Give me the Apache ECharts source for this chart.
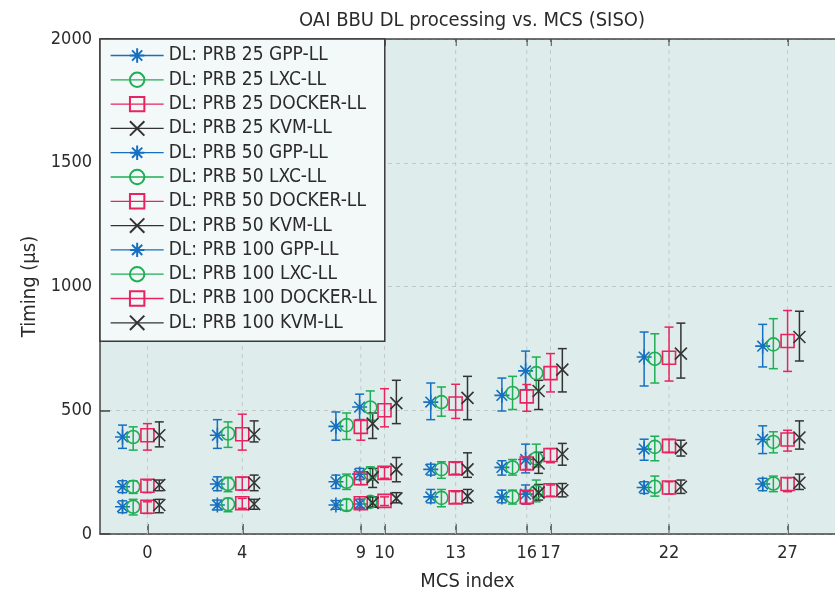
<!DOCTYPE html>
<html>
<head>
<meta charset="utf-8">
<script src="https://cdn.jsdelivr.net/npm/echarts@6.0.0/dist/echarts.min.js"></script>
<style>html,body{margin:0;padding:0;background:#fff}#chart{width:835px;height:597px}</style>
</head>
<body>
<div id="chart"></div>
<script>
// ---- data ----
const mcs = [0, 4, 9, 10, 13, 16, 17, 22, 27];
const xTicks = [0, 4, 9, 10, 13, 16, 17, 22, 27];
const yTicks = [0, 500, 1000, 1500, 2000];

const prb25_gpp      = [110, 117, 117, 121, 150, 150, 161, 188, 202];
const prb25_gpp_lo   = [86, 97, 100, 105, 126, 126, 121, 164, 175];
const prb25_gpp_hi   = [134, 137, 135, 140, 180, 177, 198, 211, 225];
const prb25_lxc      = [110, 120, 117, 130, 146, 150, 171, 191, 204];
const prb25_lxc_lo   = [77, 90, 95, 110, 110, 121, 130, 153, 171];
const prb25_lxc_hi   = [140, 144, 140, 150, 180, 177, 218, 234, 234];
const prb25_docker   = [110, 124, 124, 134, 148, 150, 177, 188, 202];
const prb25_docker_lo= [83, 104, 105, 115, 124, 121, 153, 161, 171];
const prb25_docker_hi= [130, 144, 140, 150, 171, 171, 198, 211, 227];
const prb25_kvm      = [117, 121, 126, 144, 153, 167, 177, 191, 207];
const prb25_kvm_lo   = [86, 100, 108, 126, 126, 137, 150, 164, 180];
const prb25_kvm_hi   = [140, 140, 150, 167, 180, 200, 204, 218, 242];

const prb50_gpp      = [191, 202, 211, 242, 261, 269, 301, 343, 382];
const prb50_gpp_lo   = [167, 175, 184, 220, 238, 238, 247, 298, 325];
const prb50_gpp_hi   = [215, 231, 238, 265, 282, 296, 363, 383, 437];
const prb50_lxc      = [191, 202, 211, 245, 262, 269, 305, 352, 372];
const prb50_lxc_lo   = [164, 171, 180, 218, 225, 238, 271, 296, 328];
const prb50_lxc_hi   = [215, 229, 242, 271, 292, 301, 363, 395, 413];
const prb50_docker   = [195, 204, 225, 247, 265, 285, 319, 356, 382];
const prb50_docker_lo= [167, 177, 200, 225, 242, 261, 288, 329, 335];
const prb50_docker_hi= [218, 229, 250, 269, 289, 305, 345, 382, 419];
const prb50_kvm      = [198, 207, 229, 261, 261, 285, 323, 346, 390];
const prb50_kvm_lo   = [175, 175, 188, 211, 229, 245, 278, 315, 343];
const prb50_kvm_hi   = [218, 238, 265, 309, 328, 330, 366, 379, 457];

const prb100_gpp      = [392, 399, 435, 513, 533, 560, 659, 715, 759];
const prb100_gpp_lo   = [346, 346, 379, 462, 462, 497, 583, 598, 675];
const prb100_gpp_hi   = [440, 462, 493, 565, 610, 630, 739, 816, 847];
const prb100_lxc      = [392, 406, 440, 511, 533, 570, 650, 708, 766];
const prb100_lxc_lo   = [339, 350, 382, 460, 476, 503, 583, 610, 668];
const prb100_lxc_hi   = [433, 453, 489, 578, 594, 637, 715, 809, 870];
const prb100_docker   = [399, 403, 433, 500, 527, 556, 650, 712, 780];
const prb100_docker_lo= [339, 339, 379, 433, 467, 496, 574, 618, 657];
const prb100_docker_hi= [446, 484, 462, 587, 605, 604, 729, 836, 903];
const prb100_kvm      = [399, 403, 446, 529, 550, 578, 664, 729, 796];
const prb100_kvm_lo   = [352, 372, 386, 446, 462, 503, 574, 630, 699];
const prb100_kvm_hi   = [453, 457, 489, 621, 637, 621, 749, 852, 900];

// ---- styles ----
const FONT = "'Liberation Sans Narrow', 'DejaVu Sans Condensed', 'Open Sans', sans-serif";
const TXT = '#2b2b2b';
const kinds = {
  GPP:    {color: '#1670c0', off: -1.05, size: 15, symbol: 'path://M12 0 L12 24 M0 12 L24 12 M3.5 3.5 L20.5 20.5 M3.5 20.5 L20.5 3.5'},
  LXC:    {color: '#1fae55', off: -0.6,  size: 13, symbol: 'path://M24 12 A12 12 0 1 1 0 12 A12 12 0 1 1 24 12 Z'},
  DOCKER: {color: '#e8235f', off: 0,     size: 13, symbol: 'path://M0 0 L24 0 L24 24 L0 24 Z'},
  KVM:    {color: '#333333', off: 0.5,   size: 12, symbol: 'path://M0 0 L24 24 M0 24 L24 0'}
};
const groups = [
  {prb: 25,  kind: 'GPP',    m: prb25_gpp,     lo: prb25_gpp_lo,     hi: prb25_gpp_hi},
  {prb: 25,  kind: 'LXC',    m: prb25_lxc,     lo: prb25_lxc_lo,     hi: prb25_lxc_hi},
  {prb: 25,  kind: 'DOCKER', m: prb25_docker,  lo: prb25_docker_lo,  hi: prb25_docker_hi},
  {prb: 25,  kind: 'KVM',    m: prb25_kvm,     lo: prb25_kvm_lo,     hi: prb25_kvm_hi},
  {prb: 50,  kind: 'GPP',    m: prb50_gpp,     lo: prb50_gpp_lo,     hi: prb50_gpp_hi},
  {prb: 50,  kind: 'LXC',    m: prb50_lxc,     lo: prb50_lxc_lo,     hi: prb50_lxc_hi},
  {prb: 50,  kind: 'DOCKER', m: prb50_docker,  lo: prb50_docker_lo,  hi: prb50_docker_hi},
  {prb: 50,  kind: 'KVM',    m: prb50_kvm,     lo: prb50_kvm_lo,     hi: prb50_kvm_hi},
  {prb: 100, kind: 'GPP',    m: prb100_gpp,    lo: prb100_gpp_lo,    hi: prb100_gpp_hi},
  {prb: 100, kind: 'LXC',    m: prb100_lxc,    lo: prb100_lxc_lo,    hi: prb100_lxc_hi},
  {prb: 100, kind: 'DOCKER', m: prb100_docker, lo: prb100_docker_lo, hi: prb100_docker_hi},
  {prb: 100, kind: 'KVM',    m: prb100_kvm,    lo: prb100_kvm_lo,    hi: prb100_kvm_hi}
];

function errRender(params, api) {
  const x = api.value(0), lo = api.value(1), hi = api.value(2);
  const a = api.coord([x, lo]), b = api.coord([x, hi]);
  const w = 4.5;
  const style = {stroke: api.visual('color'), lineWidth: 1.5, fill: null};
  return {type: 'group', children: [
    {type: 'line', shape: {x1: a[0], y1: a[1], x2: b[0], y2: b[1]}, style: style},
    {type: 'line', shape: {x1: a[0] - w, y1: a[1], x2: a[0] + w, y2: a[1]}, style: style},
    {type: 'line', shape: {x1: b[0] - w, y1: b[1], x2: b[0] + w, y2: b[1]}, style: style}
  ]};
}
function gridRender(params, api) {
  const x = api.value(0);
  const a = api.coord([x, yTicks[0]]), b = api.coord([x, yTicks[yTicks.length - 1]]);
  return {type: 'line', shape: {x1: a[0], y1: a[1], x2: b[0], y2: b[1]},
    style: {stroke: '#c3c9c9', lineWidth: 1, lineDash: [4, 4]}};
}

const series = [{
  type: 'custom', name: '_grid', silent: true, z: 1,
  data: xTicks.map(v => [v]), encode: {x: 0}, renderItem: gridRender
}];
const names = [];
groups.forEach(g => {
  const k = kinds[g.kind];
  const name = 'DL: PRB ' + g.prb + ' ' + g.kind + '-LL';
  names.push(name);
  series.push({
    type: 'line', name: name, z: 3, silent: true,
    symbol: k.symbol, symbolSize: k.size, showSymbol: true,
    itemStyle: {color: 'rgba(0,0,0,0)', borderColor: k.color, borderWidth: 1.6},
    lineStyle: {color: k.color, width: 1, opacity: 0},
    data: mcs.map((x, i) => [x + k.off, g.m[i]])
  });
  series.push({
    type: 'custom', name: name + ' (err)', z: 2, silent: true,
    itemStyle: {color: k.color},
    encode: {x: 0, y: [1, 2]},
    data: mcs.map((x, i) => [x + k.off, g.lo[i], g.hi[i]]),
    renderItem: errRender
  });
});

const chart = echarts.init(document.getElementById('chart'), null, {renderer: 'canvas'});
chart.setOption({
  animation: false,
  textStyle: {fontFamily: FONT},
  title: {
    text: 'OAI BBU DL processing vs. MCS (SISO)',
    left: 467, top: 6, textAlign: 'center',
    textStyle: {fontFamily: FONT, fontSize: 20, fontWeight: 'normal', color: TXT}
  },
  grid: {left: 100, right: 0, top: 39, bottom: 62, show: true,
    backgroundColor: '#deedeb', borderWidth: 0},
  legend: {
    data: names, orient: 'vertical', left: 100, top: 39,
    itemWidth: 53, itemHeight: 18, itemGap: 5.3,
    padding: [7, 8, 9, 10],
    backgroundColor: '#f3f8f8', borderColor: '#3a3a3a', borderWidth: 1.5,
    selectedMode: false,
    lineStyle: {opacity: 1, width: 1.3},
    textStyle: {fontFamily: FONT, fontSize: 19, color: TXT}
  },
  xAxis: [{
    type: 'value', min: -2, max: 29, interval: 1, position: 'bottom',
    name: 'MCS index', nameLocation: 'middle', nameGap: 38,
    nameTextStyle: {fontFamily: FONT, fontSize: 20, color: TXT},
    axisLine: {show: true, onZero: false, lineStyle: {color: '#444', width: 1.5}},
    axisTick: {show: true, inside: true, length: 10, customValues: xTicks, lineStyle: {color: '#444', width: 1.5}},
    axisLabel: {show: true, customValues: xTicks, margin: 10, fontFamily: FONT, fontSize: 18, color: TXT},
    splitLine: {show: false}
  }, {
    type: 'value', min: -2, max: 29, interval: 1, position: 'top',
    axisLine: {show: true, onZero: false, lineStyle: {color: '#444', width: 1.5}},
    axisTick: {show: true, inside: true, length: 7, customValues: xTicks, lineStyle: {color: '#444', width: 1.5}},
    axisLabel: {show: false},
    splitLine: {show: false}
  }],
  yAxis: {
    type: 'value', min: 0, max: 2000, interval: 500,
    name: 'Timing (µs)', nameLocation: 'middle', nameGap: 50,
    nameTextStyle: {fontFamily: FONT, fontSize: 20, color: TXT},
    axisLine: {show: true, onZero: false, lineStyle: {color: '#444', width: 1.5}},
    axisTick: {show: true, inside: true, length: 10, lineStyle: {color: '#444', width: 1.5}},
    axisLabel: {margin: 8, fontFamily: FONT, fontSize: 18, color: TXT, formatter: v => String(v)},
    splitLine: {show: true, lineStyle: {color: '#c3c9c9', width: 1, type: [4, 4]}}
  },
  series: series
});
</script>
</body>
</html>
